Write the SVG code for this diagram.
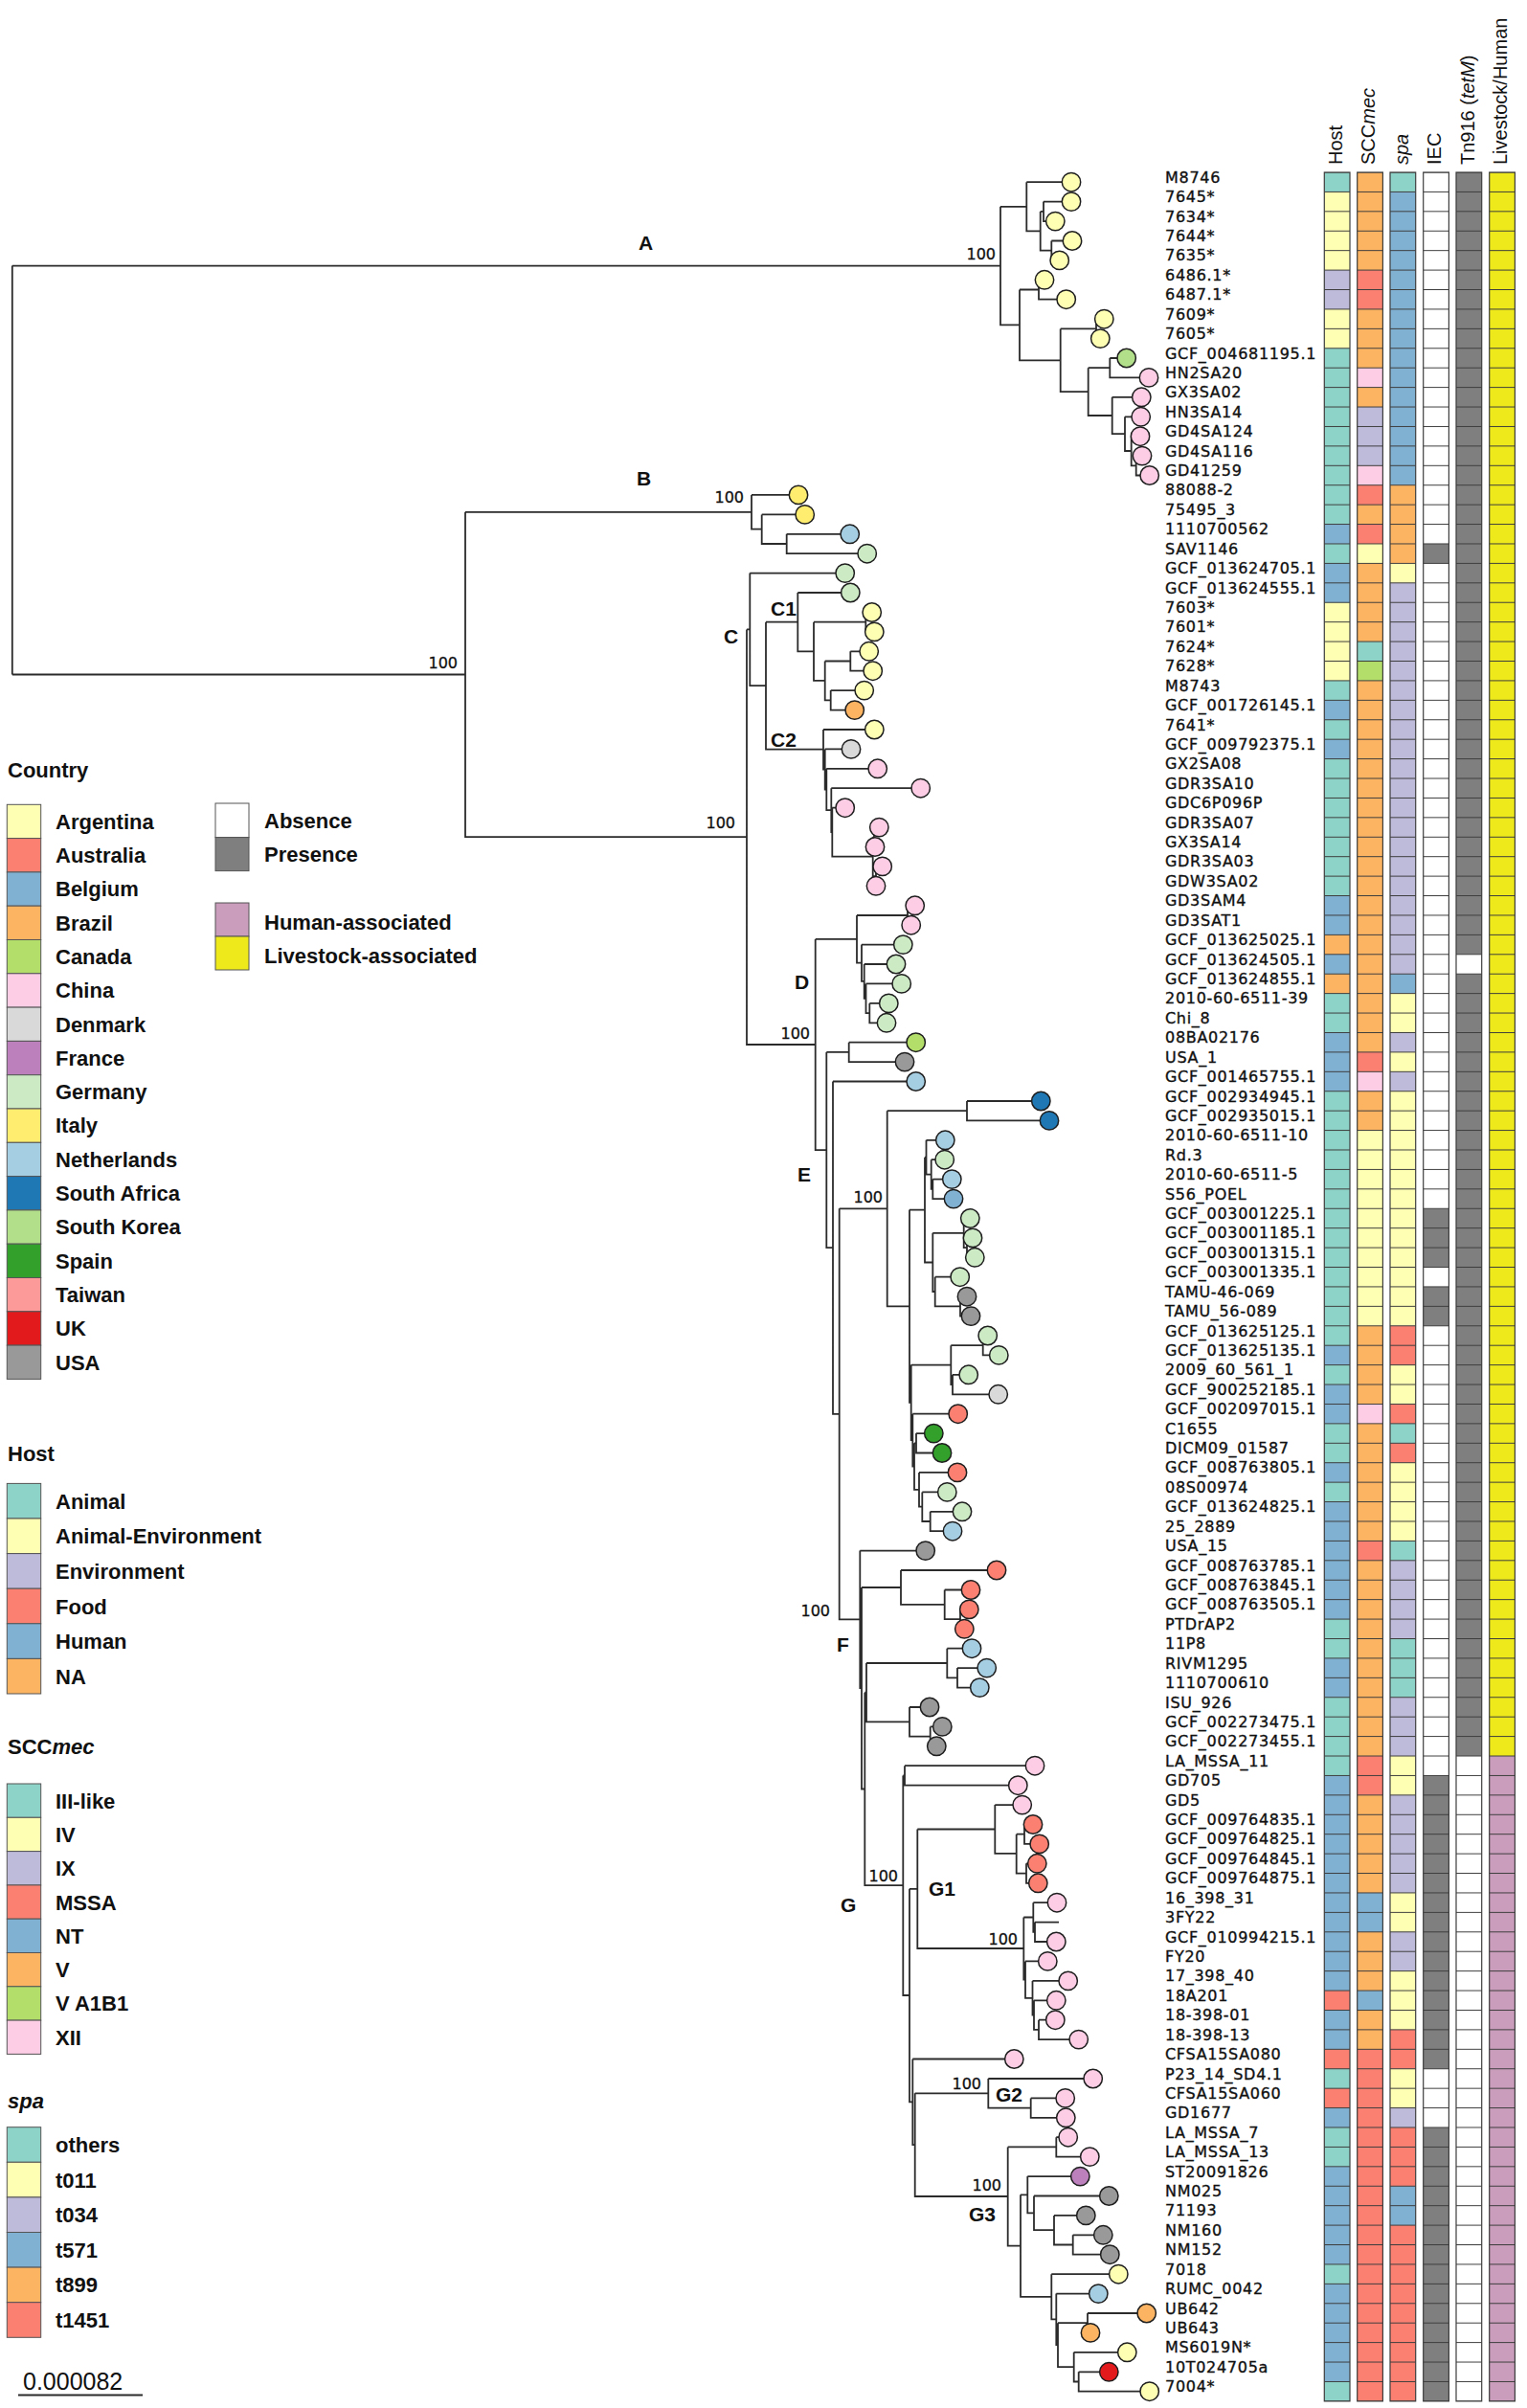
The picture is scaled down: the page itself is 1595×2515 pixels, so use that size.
<svg xmlns="http://www.w3.org/2000/svg" width="1595" height="2515" viewBox="0 0 1595 2515">
<defs>
<pattern id="rg" patternUnits="userSpaceOnUse" x="0" y="179.5" width="30" height="20.42"><rect x="0" y="0" width="30" height="1" fill="#3d3d3d"/></pattern>
</defs>
<style>
text{font-family:"Liberation Sans",Arial,sans-serif;fill:#111}
.br{fill:none;stroke:#2b2b2b;stroke-width:1.8}
circle{stroke:#1e1e1e;stroke-width:1.5}
.lb{font-family:"DejaVu Sans",sans-serif;font-size:16px;letter-spacing:0.7px;stroke:#111;stroke-width:0.35px}
.bs{font-family:"DejaVu Sans",sans-serif;font-size:16px;text-anchor:end;stroke:#111;stroke-width:0.3px}
.cl{font-size:21px;font-weight:bold}
.hd{font-size:20px}
.lg{font-size:22px;font-weight:bold}
.sw{stroke:#555;stroke-width:1}
.gl{stroke:#3d3d3d;stroke-width:1.2}
.ar{fill:#FFFFB3}.au{fill:#FB8072}.be{fill:#80B1D3}.br2{fill:#FDB462}.ca{fill:#B3DE69}.cn{fill:#FCCDE5}.dk{fill:#D9D9D9}.fr{fill:#BC80BD}.de{fill:#CCEBC5}.it{fill:#FFED6F}.nl{fill:#A6CEE3}.za{fill:#1F78B4}.kr{fill:#B2DF8A}.es{fill:#33A02C}.tw{fill:#FB9A99}.uk{fill:#E31A1C}.us{fill:#999999}
.tl{fill:#8DD3C7}.lv{fill:#BEBADA}.wh{fill:#FFFFFF}.pr{fill:#7F7F7F}.ls{fill:#EDE91A}.hu{fill:#C99DBB}
</style>
<rect width="1595" height="2515" fill="#fff"/>

<g id="connectors">
<path class="br" d="M12.8,277.6V704.5M12.8,277.6H1045M12.8,704.5H486
M1045,215.8V339.4H1065M1045,215.8H1072.3
M1072.3,190.2V241.3H1086.7M1072.3,190.2H1119
M1086.7,220.9V261.7H1098.3M1086.7,220.9H1090
M1090,210.6V231.1H1102.3M1090,210.6H1119
M1098.3,251.5V271.9H1106.7M1098.3,251.5H1120
M1065,302.5V376.3H1107.7M1065,302.5H1085
M1085,292.3V312.7H1113.7M1085,292.3H1091
M1107.7,343.4V409.1H1136.7M1107.7,343.4H1145
M1145,333.2V353.6H1149.3M1145,333.2H1153.3
M1136.7,384.2V434H1161.7M1136.7,384.2H1159.3
M1159.3,374V394.4H1200M1159.3,374H1176.7
M1161.7,414.8V453.2H1175M1161.7,414.8H1192.3
M1175,435.3V471H1181.7M1175,435.3H1191.7
M1181.7,455.7V486.3H1186.7M1181.7,455.7H1191
M1186.7,476.1V496.5H1200.7M1186.7,476.1H1193
M486,534.8V874.2H780M486,534.8H785
M785,516.9V552.7H795.7M785,516.9H834
M795.7,537.4V568H821.7M795.7,537.4H840.7
M821.7,557.8V578.2H905.7M821.7,557.8H887.7
M780,657.4V1091H851.7M780,657.4H783.3
M783.3,598.6V716.2H800M783.3,598.6H882.7
M800,649.7V782.7H860M800,649.7H833.3
M833.3,619V680.4H850M833.3,619H888.3
M850,649.7V710.9H861.7M850,649.7H904.3
M904.3,639.5V659.9H913.3M904.3,639.5H910.7
M861.7,690.5V731.3H867.7M861.7,690.5H888.3
M888.3,680.3V700.7H911.7M888.3,680.3H907.7
M867.7,721.1V741.6H892.7M867.7,721.1H902.7
M860,762V803.5H861.7M860,762H913.3
M861.7,782.4V824.5H863.3M861.7,782.4H889
M863.3,802.8V846.2H868.3M863.3,802.8H916.7
M868.3,823.2V869.2H869.3M868.3,823.2H961.7
M869.3,843.7V894.7H911.7M869.3,843.7H882.7
M911.7,874.3V915.1H915M911.7,874.3H913
M913,864.1V884.5H914M913,864.1H918.3
M915,904.9V925.3M915,904.9H921.7
M851.7,980.9V1201.1H863.3M851.7,980.9H895
M895,956V1005.7H900M895,956H948
M948,945.8V966.2H951.7M948,945.8H955.7
M900,986.6V1024.9H902.7M900,986.6H943.3
M902.7,1007V1042.8H904.5M902.7,1007H936
M904.5,1027.4V1058.1H908.3M904.5,1027.4H941.7
M908.3,1047.9V1068.3H926M908.3,1047.9H928.3
M863.3,1098.9V1303.2H870M863.3,1098.9H886.7
M886.7,1088.7V1109.1H945M886.7,1088.7H956.7
M870,1129.5V1476.9H876.7M870,1129.5H956.7
M876.7,1262.3V1691.4H898.3M876.7,1262.3H926.7
M926.7,1160.2V1364.3H950M926.7,1160.2H1010
M1010,1150V1170.4H1096M1010,1150H1087.3
M950,1263.6V1464.9H951.7M950,1263.6H966
M966,1208.7V1318.5H974.3M966,1208.7H967.5
M967.5,1190.8V1226.6H972.7M967.5,1190.8H987.3
M972.7,1211.2V1241.9H974.3M972.7,1211.2H986.7
M974.3,1231.6V1252.1H996M974.3,1231.6H994.3
M974.3,1287.8V1349H976.7M974.3,1287.8H1006.7
M1006.7,1272.5V1303.1H1010M1006.7,1272.5H1013.3
M1010,1292.9V1313.3H1018.3M1010,1292.9H1016
M976.7,1333.7V1364.4H1003M976.7,1333.7H1002.7
M1003,1354.2V1374.6H1014M1003,1354.2H1010
M951.7,1425.6V1504.2H953.3M951.7,1425.6H993.3
M993.3,1405.2V1446H995M993.3,1405.2H1026.7
M1026.7,1395V1415.4H1043.3M1026.7,1395H1031.7
M995,1435.8V1456.3H1042.7M995,1435.8H1011.7
M953.3,1476.7V1531.6H955M953.3,1476.7H1000.7
M955,1507.3V1555.8H960M955,1507.3H957
M957,1497.1V1517.5H984M957,1497.1H975.3
M960,1537.9V1573.7H963.3M960,1537.9H1000
M963.3,1558.4V1589H971.7M963.3,1558.4H989.3
M971.7,1578.8V1599.2H995M971.7,1578.8H1005
M898.3,1619.6V1763.2H900M898.3,1619.6H966.7
M900,1658V1868.5H903.3M900,1658H941
M941,1640V1675.8H986.7M941,1640H1041
M986.7,1660.5V1691.1H1003M986.7,1660.5H1014
M1003,1680.9V1701.3H1007.3M1003,1680.9H1012.3
M903.3,1767.7V1969.2H943.3M903.3,1767.7H905
M905,1737V1798.3H950M905,1737H989.3
M989.3,1721.7V1752.4H1000M989.3,1721.7H1015
M1000,1742.1V1762.6H1023.3M1000,1742.1H1030.7
M950,1783V1813.6H971.7M950,1783H971
M971.7,1803.4V1823.8H978.3M971.7,1803.4H984.3
M943.3,1854.5V2084H950M943.3,1854.5H945
M945,1844.2V1864.7H1063.3M945,1844.2H1081
M950,1972.8V2195.3H953.3M950,1972.8H958.3
M958.3,1910.5V2035H1069.3M958.3,1910.5H1039.3
M1039.3,1885.1V1935.9H1061.7M1039.3,1885.1H1067.7
M1061.7,1915.7V1956.6H1072M1061.7,1915.7H1070
M1070,1905.5V1925.9H1085.7M1070,1905.5H1079
M1072,1946.3V1966.8H1084.3M1072,1946.3H1083.3
M1069.3,2002.5V2067.6H1071M1069.3,2002.5H1079.3
M1079.3,1987.2V2017.8H1081M1079.3,1987.2H1104
M1081,2007.6V2028H1103.3M1081,2007.6H1106
M1071,2048.4V2086.8H1078.5M1071,2048.4H1094.3
M1078.5,2068.9V2104.6H1080M1078.5,2068.9H1115.7
M1080,2089.3V2119.9H1085M1080,2089.3H1103.3
M1085,2109.7V2130.1H1126.7M1085,2109.7H1102.3
M953.3,2150.5V2240.2H955.7M953.3,2150.5H1059.3
M955.7,2186.3V2294H1052.7M955.7,2186.3H1032.3
M1032.3,2171V2201.6H1076.7M1032.3,2171H1141.7
M1076.7,2191.4V2211.8H1113.3M1076.7,2191.4H1112.7
M1052.7,2242.4V2345.6H1066M1052.7,2242.4H1103.3
M1103.3,2232.2V2252.6H1138.3M1103.3,2232.2H1115.7
M1066,2292.3V2398.8H1098.3M1066,2292.3H1073.3
M1073.3,2273.1V2311.4H1080M1073.3,2273.1H1128.3
M1080,2293.5V2329.2H1101M1080,2293.5H1158.3
M1101,2313.9V2344.5H1120.7M1101,2313.9H1134.3
M1120.7,2334.3V2354.7H1159.3M1120.7,2334.3H1152.3
M1098.3,2375.2V2422.4H1103.3M1098.3,2375.2H1168.3
M1103.3,2395.6V2449.2H1105M1103.3,2395.6H1147.3
M1105,2426.2V2472.2H1121.7M1105,2426.2H1136
M1136,2416V2436.4H1139M1136,2416H1197.7
M1121.7,2456.8V2487.5H1126.7M1121.7,2456.8H1177.3
M1126.7,2477.3V2497.7H1200.7M1126.7,2477.3H1158.3"/>
</g>

<g id="support">
<text class="bs" x="1040" y="271">100</text>
<text class="bs" x="777" y="525">100</text>
<text class="bs" x="478" y="698">100</text>
<text class="bs" x="768" y="865">100</text>
<text class="bs" x="846" y="1085">100</text>
<text class="bs" x="922" y="1256">100</text>
<text class="bs" x="867" y="1688">100</text>
<text class="bs" x="938" y="1965">100</text>
<text class="bs" x="1063" y="2031">100</text>
<text class="bs" x="1025" y="2182">100</text>
<text class="bs" x="1046" y="2288">100</text>
</g>

<g id="clade-labels">
<text class="cl" x="667" y="261">A</text>
<text class="cl" x="665" y="507">B</text>
<text class="cl" x="756" y="672">C</text>
<text class="cl" x="805" y="643">C1</text>
<text class="cl" x="805" y="780">C2</text>
<text class="cl" x="830" y="1033">D</text>
<text class="cl" x="833" y="1234">E</text>
<text class="cl" x="874" y="1725">F</text>
<text class="cl" x="878" y="1997">G</text>
<text class="cl" x="970" y="1980">G1</text>
<text class="cl" x="1040" y="2195">G2</text>
<text class="cl" x="1012" y="2320">G3</text>
</g>

<g id="tips">
<g id="tip1"><circle cx="1119" cy="190.2" r="9.7" class="ar"/><text class="lb" x="1217" y="190.7">M8746</text></g>
<g id="tip2"><circle cx="1119" cy="210.6" r="9.7" class="ar"/><text class="lb" x="1217" y="211.1">7645*</text></g>
<g id="tip3"><circle cx="1102.3" cy="231.1" r="9.7" class="ar"/><text class="lb" x="1217" y="231.6">7634*</text></g>
<g id="tip4"><circle cx="1120" cy="251.5" r="9.7" class="ar"/><text class="lb" x="1217" y="252">7644*</text></g>
<g id="tip5"><circle cx="1106.7" cy="271.9" r="9.7" class="ar"/><text class="lb" x="1217" y="272.4">7635*</text></g>
<g id="tip6"><circle cx="1091" cy="292.3" r="9.7" class="ar"/><text class="lb" x="1217" y="292.8">6486.1*</text></g>
<g id="tip7"><circle cx="1113.7" cy="312.7" r="9.7" class="ar"/><text class="lb" x="1217" y="313.2">6487.1*</text></g>
<g id="tip8"><circle cx="1153.3" cy="333.2" r="9.7" class="ar"/><text class="lb" x="1217" y="333.7">7609*</text></g>
<g id="tip9"><circle cx="1149.3" cy="353.6" r="9.7" class="ar"/><text class="lb" x="1217" y="354.1">7605*</text></g>
<g id="tip10"><circle cx="1176.7" cy="374" r="9.7" class="kr"/><text class="lb" x="1217" y="374.5">GCF_004681195.1</text></g>
<g id="tip11"><circle cx="1200" cy="394.4" r="9.7" class="cn"/><text class="lb" x="1217" y="394.9">HN2SA20</text></g>
<g id="tip12"><circle cx="1192.3" cy="414.8" r="9.7" class="cn"/><text class="lb" x="1217" y="415.3">GX3SA02</text></g>
<g id="tip13"><circle cx="1191.7" cy="435.3" r="9.7" class="cn"/><text class="lb" x="1217" y="435.8">HN3SA14</text></g>
<g id="tip14"><circle cx="1191" cy="455.7" r="9.7" class="cn"/><text class="lb" x="1217" y="456.2">GD4SA124</text></g>
<g id="tip15"><circle cx="1193" cy="476.1" r="9.7" class="cn"/><text class="lb" x="1217" y="476.6">GD4SA116</text></g>
<g id="tip16"><circle cx="1200.7" cy="496.5" r="9.7" class="cn"/><text class="lb" x="1217" y="497">GD41259</text></g>
<g id="tip17"><circle cx="834" cy="516.9" r="9.7" class="it"/><text class="lb" x="1217" y="517.4">88088-2</text></g>
<g id="tip18"><circle cx="840.7" cy="537.4" r="9.7" class="it"/><text class="lb" x="1217" y="537.9">75495_3</text></g>
<g id="tip19"><circle cx="887.7" cy="557.8" r="9.7" class="nl"/><text class="lb" x="1217" y="558.3">1110700562</text></g>
<g id="tip20"><circle cx="905.7" cy="578.2" r="9.7" class="de"/><text class="lb" x="1217" y="578.7">SAV1146</text></g>
<g id="tip21"><circle cx="882.7" cy="598.6" r="9.7" class="de"/><text class="lb" x="1217" y="599.1">GCF_013624705.1</text></g>
<g id="tip22"><circle cx="888.3" cy="619" r="9.7" class="de"/><text class="lb" x="1217" y="619.5">GCF_013624555.1</text></g>
<g id="tip23"><circle cx="910.7" cy="639.5" r="9.7" class="ar"/><text class="lb" x="1217" y="640">7603*</text></g>
<g id="tip24"><circle cx="913.3" cy="659.9" r="9.7" class="ar"/><text class="lb" x="1217" y="660.4">7601*</text></g>
<g id="tip25"><circle cx="907.7" cy="680.3" r="9.7" class="ar"/><text class="lb" x="1217" y="680.8">7624*</text></g>
<g id="tip26"><circle cx="911.7" cy="700.7" r="9.7" class="ar"/><text class="lb" x="1217" y="701.2">7628*</text></g>
<g id="tip27"><circle cx="902.7" cy="721.1" r="9.7" class="ar"/><text class="lb" x="1217" y="721.6">M8743</text></g>
<g id="tip28"><circle cx="892.7" cy="741.6" r="9.7" class="br2"/><text class="lb" x="1217" y="742.1">GCF_001726145.1</text></g>
<g id="tip29"><circle cx="913.3" cy="762" r="9.7" class="ar"/><text class="lb" x="1217" y="762.5">7641*</text></g>
<g id="tip30"><circle cx="889" cy="782.4" r="9.7" class="dk"/><text class="lb" x="1217" y="782.9">GCF_009792375.1</text></g>
<g id="tip31"><circle cx="916.7" cy="802.8" r="9.7" class="cn"/><text class="lb" x="1217" y="803.3">GX2SA08</text></g>
<g id="tip32"><circle cx="961.7" cy="823.2" r="9.7" class="cn"/><text class="lb" x="1217" y="823.7">GDR3SA10</text></g>
<g id="tip33"><circle cx="882.7" cy="843.7" r="9.7" class="cn"/><text class="lb" x="1217" y="844.2">GDC6P096P</text></g>
<g id="tip34"><circle cx="918.3" cy="864.1" r="9.7" class="cn"/><text class="lb" x="1217" y="864.6">GDR3SA07</text></g>
<g id="tip35"><circle cx="914" cy="884.5" r="9.7" class="cn"/><text class="lb" x="1217" y="885">GX3SA14</text></g>
<g id="tip36"><circle cx="921.7" cy="904.9" r="9.7" class="cn"/><text class="lb" x="1217" y="905.4">GDR3SA03</text></g>
<g id="tip37"><circle cx="915" cy="925.3" r="9.7" class="cn"/><text class="lb" x="1217" y="925.8">GDW3SA02</text></g>
<g id="tip38"><circle cx="955.7" cy="945.8" r="9.7" class="cn"/><text class="lb" x="1217" y="946.3">GD3SAM4</text></g>
<g id="tip39"><circle cx="951.7" cy="966.2" r="9.7" class="cn"/><text class="lb" x="1217" y="966.7">GD3SAT1</text></g>
<g id="tip40"><circle cx="943.3" cy="986.6" r="9.7" class="de"/><text class="lb" x="1217" y="987.1">GCF_013625025.1</text></g>
<g id="tip41"><circle cx="936" cy="1007" r="9.7" class="de"/><text class="lb" x="1217" y="1007.5">GCF_013624505.1</text></g>
<g id="tip42"><circle cx="941.7" cy="1027.4" r="9.7" class="de"/><text class="lb" x="1217" y="1027.9">GCF_013624855.1</text></g>
<g id="tip43"><circle cx="928.3" cy="1047.9" r="9.7" class="de"/><text class="lb" x="1217" y="1048.4">2010-60-6511-39</text></g>
<g id="tip44"><circle cx="926" cy="1068.3" r="9.7" class="de"/><text class="lb" x="1217" y="1068.8">Chi_8</text></g>
<g id="tip45"><circle cx="956.7" cy="1088.7" r="9.7" class="ca"/><text class="lb" x="1217" y="1089.2">08BA02176</text></g>
<g id="tip46"><circle cx="945" cy="1109.1" r="9.7" class="us"/><text class="lb" x="1217" y="1109.6">USA_1</text></g>
<g id="tip47"><circle cx="956.7" cy="1129.5" r="9.7" class="nl"/><text class="lb" x="1217" y="1130">GCF_001465755.1</text></g>
<g id="tip48"><circle cx="1087.3" cy="1150" r="9.7" class="za"/><text class="lb" x="1217" y="1150.5">GCF_002934945.1</text></g>
<g id="tip49"><circle cx="1096" cy="1170.4" r="9.7" class="za"/><text class="lb" x="1217" y="1170.9">GCF_002935015.1</text></g>
<g id="tip50"><circle cx="987.3" cy="1190.8" r="9.7" class="nl"/><text class="lb" x="1217" y="1191.3">2010-60-6511-10</text></g>
<g id="tip51"><circle cx="986.7" cy="1211.2" r="9.7" class="de"/><text class="lb" x="1217" y="1211.7">Rd.3</text></g>
<g id="tip52"><circle cx="994.3" cy="1231.6" r="9.7" class="nl"/><text class="lb" x="1217" y="1232.1">2010-60-6511-5</text></g>
<g id="tip53"><circle cx="996" cy="1252.1" r="9.7" class="be"/><text class="lb" x="1217" y="1252.6">S56_POEL</text></g>
<g id="tip54"><circle cx="1013.3" cy="1272.5" r="9.7" class="de"/><text class="lb" x="1217" y="1273">GCF_003001225.1</text></g>
<g id="tip55"><circle cx="1016" cy="1292.9" r="9.7" class="de"/><text class="lb" x="1217" y="1293.4">GCF_003001185.1</text></g>
<g id="tip56"><circle cx="1018.3" cy="1313.3" r="9.7" class="de"/><text class="lb" x="1217" y="1313.8">GCF_003001315.1</text></g>
<g id="tip57"><circle cx="1002.7" cy="1333.7" r="9.7" class="de"/><text class="lb" x="1217" y="1334.2">GCF_003001335.1</text></g>
<g id="tip58"><circle cx="1010" cy="1354.2" r="9.7" class="us"/><text class="lb" x="1217" y="1354.7">TAMU-46-069</text></g>
<g id="tip59"><circle cx="1014" cy="1374.6" r="9.7" class="us"/><text class="lb" x="1217" y="1375.1">TAMU_56-089</text></g>
<g id="tip60"><circle cx="1031.7" cy="1395" r="9.7" class="de"/><text class="lb" x="1217" y="1395.5">GCF_013625125.1</text></g>
<g id="tip61"><circle cx="1043.3" cy="1415.4" r="9.7" class="de"/><text class="lb" x="1217" y="1415.9">GCF_013625135.1</text></g>
<g id="tip62"><circle cx="1011.7" cy="1435.8" r="9.7" class="de"/><text class="lb" x="1217" y="1436.3">2009_60_561_1</text></g>
<g id="tip63"><circle cx="1042.7" cy="1456.3" r="9.7" class="dk"/><text class="lb" x="1217" y="1456.8">GCF_900252185.1</text></g>
<g id="tip64"><circle cx="1000.7" cy="1476.7" r="9.7" class="au"/><text class="lb" x="1217" y="1477.2">GCF_002097015.1</text></g>
<g id="tip65"><circle cx="975.3" cy="1497.1" r="9.7" class="es"/><text class="lb" x="1217" y="1497.6">C1655</text></g>
<g id="tip66"><circle cx="984" cy="1517.5" r="9.7" class="es"/><text class="lb" x="1217" y="1518">DICM09_01587</text></g>
<g id="tip67"><circle cx="1000" cy="1537.9" r="9.7" class="au"/><text class="lb" x="1217" y="1538.4">GCF_008763805.1</text></g>
<g id="tip68"><circle cx="989.3" cy="1558.4" r="9.7" class="de"/><text class="lb" x="1217" y="1558.9">08S00974</text></g>
<g id="tip69"><circle cx="1005" cy="1578.8" r="9.7" class="de"/><text class="lb" x="1217" y="1579.3">GCF_013624825.1</text></g>
<g id="tip70"><circle cx="995" cy="1599.2" r="9.7" class="nl"/><text class="lb" x="1217" y="1599.7">25_2889</text></g>
<g id="tip71"><circle cx="966.7" cy="1619.6" r="9.7" class="us"/><text class="lb" x="1217" y="1620.1">USA_15</text></g>
<g id="tip72"><circle cx="1041" cy="1640" r="9.7" class="au"/><text class="lb" x="1217" y="1640.5">GCF_008763785.1</text></g>
<g id="tip73"><circle cx="1014" cy="1660.5" r="9.7" class="au"/><text class="lb" x="1217" y="1661">GCF_008763845.1</text></g>
<g id="tip74"><circle cx="1012.3" cy="1680.9" r="9.7" class="au"/><text class="lb" x="1217" y="1681.4">GCF_008763505.1</text></g>
<g id="tip75"><circle cx="1007.3" cy="1701.3" r="9.7" class="au"/><text class="lb" x="1217" y="1701.8">PTDrAP2</text></g>
<g id="tip76"><circle cx="1015" cy="1721.7" r="9.7" class="nl"/><text class="lb" x="1217" y="1722.2">11P8</text></g>
<g id="tip77"><circle cx="1030.7" cy="1742.1" r="9.7" class="nl"/><text class="lb" x="1217" y="1742.6">RIVM1295</text></g>
<g id="tip78"><circle cx="1023.3" cy="1762.6" r="9.7" class="nl"/><text class="lb" x="1217" y="1763.1">1110700610</text></g>
<g id="tip79"><circle cx="971" cy="1783" r="9.7" class="us"/><text class="lb" x="1217" y="1783.5">ISU_926</text></g>
<g id="tip80"><circle cx="984.3" cy="1803.4" r="9.7" class="us"/><text class="lb" x="1217" y="1803.9">GCF_002273475.1</text></g>
<g id="tip81"><circle cx="978.3" cy="1823.8" r="9.7" class="us"/><text class="lb" x="1217" y="1824.3">GCF_002273455.1</text></g>
<g id="tip82"><circle cx="1081" cy="1844.2" r="9.7" class="cn"/><text class="lb" x="1217" y="1844.7">LA_MSSA_11</text></g>
<g id="tip83"><circle cx="1063.3" cy="1864.7" r="9.7" class="cn"/><text class="lb" x="1217" y="1865.2">GD705</text></g>
<g id="tip84"><circle cx="1067.7" cy="1885.1" r="9.7" class="cn"/><text class="lb" x="1217" y="1885.6">GD5</text></g>
<g id="tip85"><circle cx="1079" cy="1905.5" r="9.7" class="au"/><text class="lb" x="1217" y="1906">GCF_009764835.1</text></g>
<g id="tip86"><circle cx="1085.7" cy="1925.9" r="9.7" class="au"/><text class="lb" x="1217" y="1926.4">GCF_009764825.1</text></g>
<g id="tip87"><circle cx="1083.3" cy="1946.3" r="9.7" class="au"/><text class="lb" x="1217" y="1946.8">GCF_009764845.1</text></g>
<g id="tip88"><circle cx="1084.3" cy="1966.8" r="9.7" class="au"/><text class="lb" x="1217" y="1967.3">GCF_009764875.1</text></g>
<g id="tip89"><circle cx="1104" cy="1987.2" r="9.7" class="cn"/><text class="lb" x="1217" y="1987.7">16_398_31</text></g>
<g id="tip90"><text class="lb" x="1217" y="2008.1">3FY22</text></g>
<g id="tip91"><circle cx="1103.3" cy="2028" r="9.7" class="cn"/><text class="lb" x="1217" y="2028.5">GCF_010994215.1</text></g>
<g id="tip92"><circle cx="1094.3" cy="2048.4" r="9.7" class="cn"/><text class="lb" x="1217" y="2048.9">FY20</text></g>
<g id="tip93"><circle cx="1115.7" cy="2068.9" r="9.7" class="cn"/><text class="lb" x="1217" y="2069.4">17_398_40</text></g>
<g id="tip94"><circle cx="1103.3" cy="2089.3" r="9.7" class="cn"/><text class="lb" x="1217" y="2089.8">18A201</text></g>
<g id="tip95"><circle cx="1102.3" cy="2109.7" r="9.7" class="cn"/><text class="lb" x="1217" y="2110.2">18-398-01</text></g>
<g id="tip96"><circle cx="1126.7" cy="2130.1" r="9.7" class="cn"/><text class="lb" x="1217" y="2130.6">18-398-13</text></g>
<g id="tip97"><circle cx="1059.3" cy="2150.5" r="9.7" class="cn"/><text class="lb" x="1217" y="2151">CFSA15SA080</text></g>
<g id="tip98"><circle cx="1141.7" cy="2171" r="9.7" class="cn"/><text class="lb" x="1217" y="2171.5">P23_14_SD4.1</text></g>
<g id="tip99"><circle cx="1112.7" cy="2191.4" r="9.7" class="cn"/><text class="lb" x="1217" y="2191.9">CFSA15SA060</text></g>
<g id="tip100"><circle cx="1113.3" cy="2211.8" r="9.7" class="cn"/><text class="lb" x="1217" y="2212.3">GD1677</text></g>
<g id="tip101"><circle cx="1115.7" cy="2232.2" r="9.7" class="cn"/><text class="lb" x="1217" y="2232.7">LA_MSSA_7</text></g>
<g id="tip102"><circle cx="1138.3" cy="2252.6" r="9.7" class="cn"/><text class="lb" x="1217" y="2253.1">LA_MSSA_13</text></g>
<g id="tip103"><circle cx="1128.3" cy="2273.1" r="9.7" class="fr"/><text class="lb" x="1217" y="2273.6">ST20091826</text></g>
<g id="tip104"><circle cx="1158.3" cy="2293.5" r="9.7" class="us"/><text class="lb" x="1217" y="2294">NM025</text></g>
<g id="tip105"><circle cx="1134.3" cy="2313.9" r="9.7" class="us"/><text class="lb" x="1217" y="2314.4">71193</text></g>
<g id="tip106"><circle cx="1152.3" cy="2334.3" r="9.7" class="us"/><text class="lb" x="1217" y="2334.8">NM160</text></g>
<g id="tip107"><circle cx="1159.3" cy="2354.7" r="9.7" class="us"/><text class="lb" x="1217" y="2355.2">NM152</text></g>
<g id="tip108"><circle cx="1168.3" cy="2375.2" r="9.7" class="ar"/><text class="lb" x="1217" y="2375.7">7018</text></g>
<g id="tip109"><circle cx="1147.3" cy="2395.6" r="9.7" class="nl"/><text class="lb" x="1217" y="2396.1">RUMC_0042</text></g>
<g id="tip110"><circle cx="1197.7" cy="2416" r="9.7" class="br2"/><text class="lb" x="1217" y="2416.5">UB642</text></g>
<g id="tip111"><circle cx="1139" cy="2436.4" r="9.7" class="br2"/><text class="lb" x="1217" y="2436.9">UB643</text></g>
<g id="tip112"><circle cx="1177.3" cy="2456.8" r="9.7" class="ar"/><text class="lb" x="1217" y="2457.3">MS6019N*</text></g>
<g id="tip113"><circle cx="1158.3" cy="2477.3" r="9.7" class="uk"/><text class="lb" x="1217" y="2477.8">10T024705a</text></g>
<g id="tip114"><circle cx="1200.7" cy="2497.7" r="9.7" class="ar"/><text class="lb" x="1217" y="2498.2">7004*</text></g>
</g>

<g id="heatmap">
<g id="heat-headers">
<text class="hd" transform="translate(1401.8,172) rotate(-90)">Host</text>
<text class="hd" transform="translate(1436.2,172) rotate(-90)">SCC<tspan font-style="italic">mec</tspan></text>
<text class="hd" font-style="italic" transform="translate(1470.5,172) rotate(-90)">spa</text>
<text class="hd" transform="translate(1505.2,172) rotate(-90)">IEC</text>
<text class="hd" transform="translate(1539.5,172) rotate(-90)">Tn916 (<tspan font-style="italic">tetM</tspan>)</text>
<text class="hd" transform="translate(1574.2,172) rotate(-90)">Livestock/Human</text>
</g>
<g id="heat-cells" transform="matrix(1 0 0 20.42 0 180)">
<rect x="1383.3" y="0" width="26.7" height="114" class="tl"/>
<rect x="1383.3" y="1" width="26.7" height="4" class="ar"/>
<rect x="1383.3" y="7" width="26.7" height="2" class="ar"/>
<rect x="1383.3" y="22" width="26.7" height="4" class="ar"/>
<rect x="1383.3" y="5" width="26.7" height="2" class="lv"/>
<rect x="1383.3" y="18" width="26.7" height="1" class="be"/>
<rect x="1383.3" y="20" width="26.7" height="2" class="be"/>
<rect x="1383.3" y="27" width="26.7" height="1" class="be"/>
<rect x="1383.3" y="29" width="26.7" height="1" class="be"/>
<rect x="1383.3" y="37" width="26.7" height="2" class="be"/>
<rect x="1383.3" y="40" width="26.7" height="1" class="be"/>
<rect x="1383.3" y="44" width="26.7" height="3" class="be"/>
<rect x="1383.3" y="60" width="26.7" height="1" class="be"/>
<rect x="1383.3" y="62" width="26.7" height="2" class="be"/>
<rect x="1383.3" y="66" width="26.7" height="1" class="be"/>
<rect x="1383.3" y="68" width="26.7" height="6" class="be"/>
<rect x="1383.3" y="76" width="26.7" height="2" class="be"/>
<rect x="1383.3" y="82" width="26.7" height="11" class="be"/>
<rect x="1383.3" y="94" width="26.7" height="2" class="be"/>
<rect x="1383.3" y="99" width="26.7" height="1" class="be"/>
<rect x="1383.3" y="102" width="26.7" height="5" class="be"/>
<rect x="1383.3" y="108" width="26.7" height="5" class="be"/>
<rect x="1383.3" y="39" width="26.7" height="1" class="br2"/>
<rect x="1383.3" y="41" width="26.7" height="1" class="br2"/>
<rect x="1383.3" y="93" width="26.7" height="1" class="au"/>
<rect x="1383.3" y="96" width="26.7" height="1" class="au"/>
<rect x="1383.3" y="98" width="26.7" height="1" class="au"/>

<rect x="1417.7" y="0" width="26.7" height="114" class="br2"/>
<rect x="1417.7" y="5" width="26.7" height="2" class="au"/>
<rect x="1417.7" y="16" width="26.7" height="1" class="au"/>
<rect x="1417.7" y="18" width="26.7" height="1" class="au"/>
<rect x="1417.7" y="45" width="26.7" height="1" class="au"/>
<rect x="1417.7" y="70" width="26.7" height="1" class="au"/>
<rect x="1417.7" y="81" width="26.7" height="2" class="au"/>
<rect x="1417.7" y="96" width="26.7" height="18" class="au"/>
<rect x="1417.7" y="10" width="26.7" height="1" class="cn"/>
<rect x="1417.7" y="15" width="26.7" height="1" class="cn"/>
<rect x="1417.7" y="46" width="26.7" height="1" class="cn"/>
<rect x="1417.7" y="63" width="26.7" height="1" class="cn"/>
<rect x="1417.7" y="12" width="26.7" height="3" class="lv"/>
<rect x="1417.7" y="19" width="26.7" height="1" class="ar"/>
<rect x="1417.7" y="49" width="26.7" height="10" class="ar"/>
<rect x="1417.7" y="24" width="26.7" height="1" class="tl"/>
<rect x="1417.7" y="25" width="26.7" height="1" class="ca"/>
<rect x="1417.7" y="88" width="26.7" height="2" class="be"/>
<rect x="1417.7" y="93" width="26.7" height="1" class="be"/>

<rect x="1452" y="0" width="26.7" height="114" class="lv"/>
<rect x="1452" y="0" width="26.7" height="1" class="tl"/>
<rect x="1452" y="64" width="26.7" height="1" class="tl"/>
<rect x="1452" y="70" width="26.7" height="1" class="tl"/>
<rect x="1452" y="75" width="26.7" height="3" class="tl"/>
<rect x="1452" y="1" width="26.7" height="15" class="be"/>
<rect x="1452" y="41" width="26.7" height="1" class="be"/>
<rect x="1452" y="103" width="26.7" height="2" class="be"/>
<rect x="1452" y="16" width="26.7" height="4" class="br2"/>
<rect x="1452" y="20" width="26.7" height="1" class="ar"/>
<rect x="1452" y="42" width="26.7" height="2" class="ar"/>
<rect x="1452" y="45" width="26.7" height="1" class="ar"/>
<rect x="1452" y="47" width="26.7" height="12" class="ar"/>
<rect x="1452" y="61" width="26.7" height="2" class="ar"/>
<rect x="1452" y="66" width="26.7" height="4" class="ar"/>
<rect x="1452" y="81" width="26.7" height="2" class="ar"/>
<rect x="1452" y="88" width="26.7" height="2" class="ar"/>
<rect x="1452" y="92" width="26.7" height="3" class="ar"/>
<rect x="1452" y="97" width="26.7" height="2" class="ar"/>
<rect x="1452" y="59" width="26.7" height="2" class="au"/>
<rect x="1452" y="63" width="26.7" height="1" class="au"/>
<rect x="1452" y="65" width="26.7" height="1" class="au"/>
<rect x="1452" y="95" width="26.7" height="2" class="au"/>
<rect x="1452" y="100" width="26.7" height="3" class="au"/>
<rect x="1452" y="105" width="26.7" height="9" class="au"/>

<rect x="1486.7" y="0" width="26.7" height="114" class="wh"/>
<rect x="1486.7" y="19" width="26.7" height="1" class="pr"/>
<rect x="1486.7" y="53" width="26.7" height="3" class="pr"/>
<rect x="1486.7" y="57" width="26.7" height="2" class="pr"/>
<rect x="1486.7" y="82" width="26.7" height="15" class="pr"/>
<rect x="1486.7" y="100" width="26.7" height="14" class="pr"/>

<rect x="1521" y="0" width="26.7" height="114" class="wh"/>
<rect x="1521" y="0" width="26.7" height="40" class="pr"/>
<rect x="1521" y="41" width="26.7" height="40" class="pr"/>

<rect x="1555.7" y="0" width="26.7" height="81" class="ls"/>
<rect x="1555.7" y="81" width="26.7" height="33" class="hu"/>
</g>
<g id="heat-grid">
<rect class="gl" x="1383.3" y="180" width="26.7" height="2327.9" fill="url(#rg)"/>
<rect class="gl" x="1417.7" y="180" width="26.7" height="2327.9" fill="url(#rg)"/>
<rect class="gl" x="1452" y="180" width="26.7" height="2327.9" fill="url(#rg)"/>
<rect class="gl" x="1486.7" y="180" width="26.7" height="2327.9" fill="url(#rg)"/>
<rect class="gl" x="1521" y="180" width="26.7" height="2327.9" fill="url(#rg)"/>
<rect class="gl" x="1555.7" y="180" width="26.7" height="2327.9" fill="url(#rg)"/>
</g>
</g>

<g id="legend-country">
<text class="lg" x="8" y="812">Country</text>
<rect class="sw ar" x="7.3" y="840.3" width="35.4" height="35.3"/><text class="lg" x="58" y="865.7">Argentina</text>
<rect class="sw au" x="7.3" y="875.6" width="35.4" height="35.3"/><text class="lg" x="58" y="901">Australia</text>
<rect class="sw be" x="7.3" y="910.9" width="35.4" height="35.3"/><text class="lg" x="58" y="936.3">Belgium</text>
<rect class="sw br2" x="7.3" y="946.2" width="35.4" height="35.3"/><text class="lg" x="58" y="971.6">Brazil</text>
<rect class="sw ca" x="7.3" y="981.5" width="35.4" height="35.3"/><text class="lg" x="58" y="1006.9">Canada</text>
<rect class="sw cn" x="7.3" y="1016.8" width="35.4" height="35.3"/><text class="lg" x="58" y="1042.2">China</text>
<rect class="sw dk" x="7.3" y="1052.1" width="35.4" height="35.3"/><text class="lg" x="58" y="1077.5">Denmark</text>
<rect class="sw fr" x="7.3" y="1087.4" width="35.4" height="35.3"/><text class="lg" x="58" y="1112.8">France</text>
<rect class="sw de" x="7.3" y="1122.7" width="35.4" height="35.3"/><text class="lg" x="58" y="1148.1">Germany</text>
<rect class="sw it" x="7.3" y="1158" width="35.4" height="35.3"/><text class="lg" x="58" y="1183.4">Italy</text>
<rect class="sw nl" x="7.3" y="1193.3" width="35.4" height="35.3"/><text class="lg" x="58" y="1218.7">Netherlands</text>
<rect class="sw za" x="7.3" y="1228.6" width="35.4" height="35.3"/><text class="lg" x="58" y="1254">South Africa</text>
<rect class="sw kr" x="7.3" y="1263.9" width="35.4" height="35.3"/><text class="lg" x="58" y="1289.3">South Korea</text>
<rect class="sw es" x="7.3" y="1299.2" width="35.4" height="35.3"/><text class="lg" x="58" y="1324.6">Spain</text>
<rect class="sw tw" x="7.3" y="1334.5" width="35.4" height="35.3"/><text class="lg" x="58" y="1359.9">Taiwan</text>
<rect class="sw uk" x="7.3" y="1369.8" width="35.4" height="35.3"/><text class="lg" x="58" y="1395.2">UK</text>
<rect class="sw us" x="7.3" y="1405.1" width="35.4" height="35.3"/><text class="lg" x="58" y="1430.5">USA</text>
</g>

<g id="legend-presence">
<rect class="sw wh" x="225" y="839" width="35" height="35.6"/><text class="lg" x="276" y="864.8">Absence</text>
<rect class="sw pr" x="225" y="874.6" width="35" height="35"/><text class="lg" x="276" y="899.6">Presence</text>
<rect class="sw hu" x="225" y="943" width="35" height="35"/><text class="lg" x="276" y="971">Human-associated</text>
<rect class="sw ls" x="225" y="978" width="35" height="35"/><text class="lg" x="276" y="1006">Livestock-associated</text>
</g>

<g id="legend-host">
<text class="lg" x="8" y="1526">Host</text>
<rect class="sw tl" x="7.3" y="1549.4" width="35.4" height="36.6"/><text class="lg" x="58" y="1575.7">Animal</text>
<rect class="sw ar" x="7.3" y="1586" width="35.4" height="36.6"/><text class="lg" x="58" y="1612.3">Animal-Environment</text>
<rect class="sw lv" x="7.3" y="1622.6" width="35.4" height="36.6"/><text class="lg" x="58" y="1648.9">Environment</text>
<rect class="sw au" x="7.3" y="1659.2" width="35.4" height="36.6"/><text class="lg" x="58" y="1685.5">Food</text>
<rect class="sw be" x="7.3" y="1695.8" width="35.4" height="36.6"/><text class="lg" x="58" y="1722.1">Human</text>
<rect class="sw br2" x="7.3" y="1732.4" width="35.4" height="36.6"/><text class="lg" x="58" y="1758.7">NA</text>
</g>

<g id="legend-sccmec">
<text class="lg" x="8" y="1832">SCC<tspan font-style="italic">mec</tspan></text>
<rect class="sw tl" x="7.3" y="1863" width="35.4" height="35.3"/><text class="lg" x="58" y="1888.6">III-like</text>
<rect class="sw ar" x="7.3" y="1898.3" width="35.4" height="35.3"/><text class="lg" x="58" y="1923.9">IV</text>
<rect class="sw lv" x="7.3" y="1933.6" width="35.4" height="35.3"/><text class="lg" x="58" y="1959.2">IX</text>
<rect class="sw au" x="7.3" y="1968.9" width="35.4" height="35.3"/><text class="lg" x="58" y="1994.5">MSSA</text>
<rect class="sw be" x="7.3" y="2004.2" width="35.4" height="35.3"/><text class="lg" x="58" y="2029.8">NT</text>
<rect class="sw br2" x="7.3" y="2039.5" width="35.4" height="35.3"/><text class="lg" x="58" y="2065.1">V</text>
<rect class="sw ca" x="7.3" y="2074.8" width="35.4" height="35.3"/><text class="lg" x="58" y="2100.4">V A1B1</text>
<rect class="sw cn" x="7.3" y="2110.1" width="35.4" height="35.3"/><text class="lg" x="58" y="2135.7">XII</text>
</g>

<g id="legend-spa">
<text class="lg" x="8" y="2202" font-style="italic">spa</text>
<rect class="sw tl" x="7.3" y="2221.7" width="35.4" height="36.6"/><text class="lg" x="58" y="2248">others</text>
<rect class="sw ar" x="7.3" y="2258.3" width="35.4" height="36.6"/><text class="lg" x="58" y="2284.6">t011</text>
<rect class="sw lv" x="7.3" y="2294.9" width="35.4" height="36.6"/><text class="lg" x="58" y="2321.2">t034</text>
<rect class="sw be" x="7.3" y="2331.5" width="35.4" height="36.6"/><text class="lg" x="58" y="2357.8">t571</text>
<rect class="sw br2" x="7.3" y="2368.1" width="35.4" height="36.6"/><text class="lg" x="58" y="2394.4">t899</text>
<rect class="sw au" x="7.3" y="2404.7" width="35.4" height="36.6"/><text class="lg" x="58" y="2431">t1451</text>
</g>

<g id="scale-bar">
<text x="24" y="2496" font-family="DejaVu Sans, sans-serif" font-size="25">0.000082</text>
<path d="M19,2501.5H149" stroke="#2b2b2b" stroke-width="1.8" fill="none"/>
</g>
</svg>
